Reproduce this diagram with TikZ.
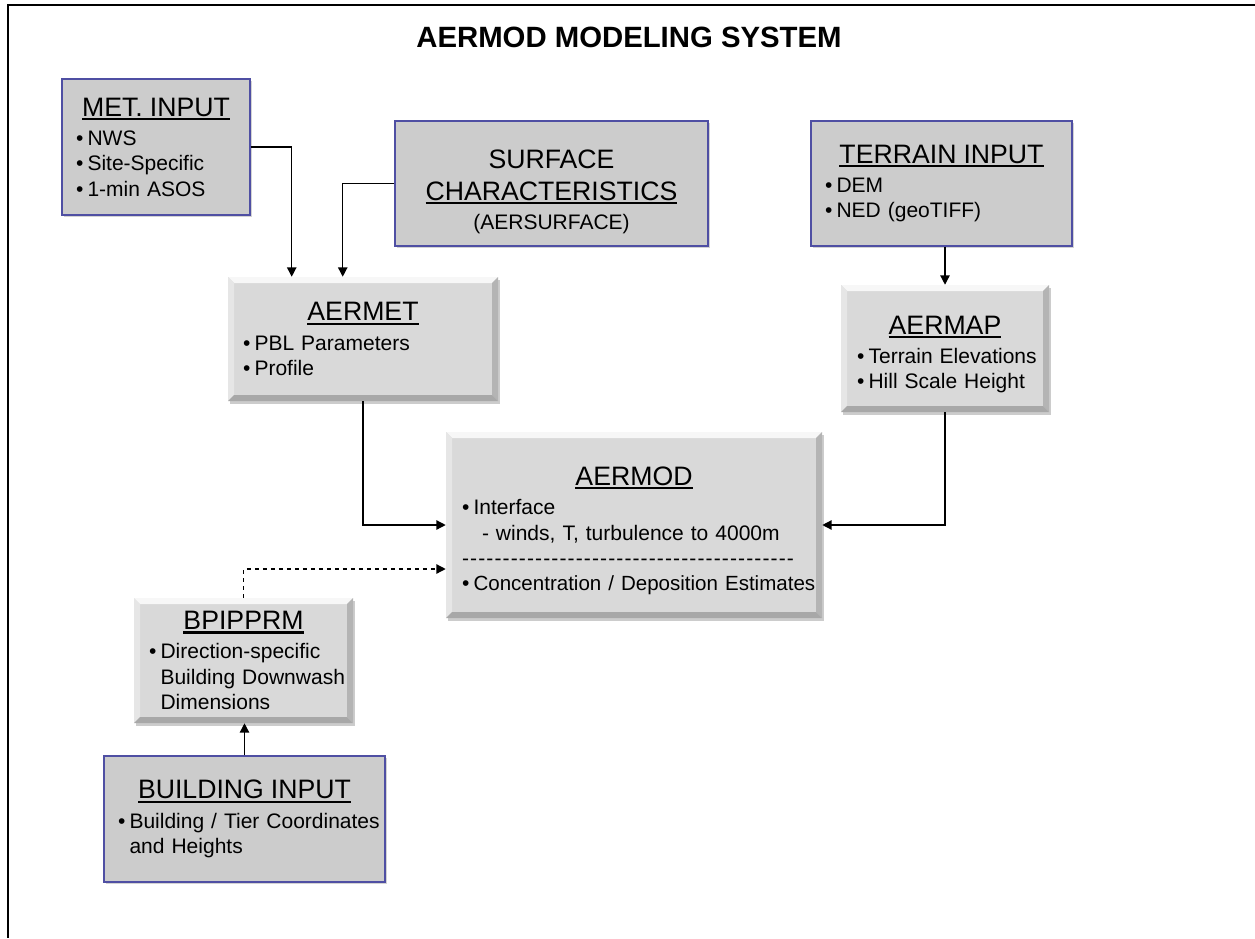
\documentclass[tikz,border=0pt]{standalone}
\usepackage{fontspec}
\setmainfont{Liberation Sans}
\usetikzlibrary{arrows.meta,shadows}

\newdimen\px \px=0.75pt
\definecolor{boxfill}{HTML}{CCCCCC}
\definecolor{boxline}{HTML}{4F4FA3}
\definecolor{bevfill}{HTML}{D9D9D9}
\definecolor{bevtop}{HTML}{F7F7F7}
\definecolor{bevleft}{HTML}{E6E6E6}
\definecolor{bevright}{HTML}{B4B4B4}
\definecolor{bevbot}{HTML}{A8A8A8}

% underlined box headings, bullets and follow-on lines
\newcommand{\uln}[1]{\leavevmode\setbox0\hbox{#1}\rlap{\rule[-4\px]{\wd0}{2.2\px}}\box0}
\newcommand{\hd}[1]{\centerline{\fontsize{20}{24}\selectfont\uln{#1}}\vskip 4\px}
\newcommand{\itm}[1]{\par\noindent\makebox[0.55em][l]{\textbullet}\mbox{#1}}
\newcommand{\cnt}[1]{\par\noindent\hspace*{0.55em}\mbox{#1}}

\begin{document}
\begin{tikzpicture}[
    % GLOBAL CFG
    x=0.75pt, y=-0.75pt,
    font=\fontsize{15.75}{19}\selectfont,
    >={Triangle[length=7pt,width=7pt]},
    % Styles
    inbox/.style={% For the input boxes
        rectangle,
        draw=boxline,
        line width=1.2\px,
        fill=boxfill,
        drop shadow={shadow xshift=1.5\px, shadow yshift=-2\px, opacity=0.35},
        align=left,
        },
    modbox/.style={% For the bevelled program boxes
        rectangle,
        fill=bevfill,
        drop shadow={shadow xshift=2\px, shadow yshift=-2.5\px, opacity=0.4},
        align=left,
        path picture={
            \fill[bevtop] (path picture bounding box.north west) -- (path picture bounding box.north east)
                -- ([xshift=-6\px,yshift=-6\px]path picture bounding box.north east)
                -- ([xshift=6\px,yshift=-6\px]path picture bounding box.north west) -- cycle;
            \fill[bevleft] (path picture bounding box.north west) -- (path picture bounding box.south west)
                -- ([xshift=6\px,yshift=6\px]path picture bounding box.south west)
                -- ([xshift=6\px,yshift=-6\px]path picture bounding box.north west) -- cycle;
            \fill[bevright] (path picture bounding box.north east) -- (path picture bounding box.south east)
                -- ([xshift=-6\px,yshift=6\px]path picture bounding box.south east)
                -- ([xshift=-6\px,yshift=-6\px]path picture bounding box.north east) -- cycle;
            \fill[bevbot] (path picture bounding box.south west) -- (path picture bounding box.south east)
                -- ([xshift=-6\px,yshift=6\px]path picture bounding box.south east)
                -- ([xshift=6\px,yshift=6\px]path picture bounding box.south west) -- cycle;
            },
        },
    conn/.style={% Connectors between boxes
        line width=1.3\px,
        },
    ]

\useasboundingbox (0,0) rectangle (1255,938);

% frame and title
\draw[line width=2.5\px] (1255,5) -| (8,938);
\node[font=\fontsize{22}{26}\selectfont\bfseries] (title) at (629,37) {AERMOD MODELING SYSTEM};

% Input boxes
\node[inbox, minimum width=188\px, minimum height=136\px, text width=160\px] (met) at (156,147)
    {\hd{MET. INPUT}\itm{NWS}\itm{Site-Specific}\itm{1-min ASOS}};
\node[inbox, minimum width=313\px, minimum height=125\px, text width=290\px, align=center] (surf) at (551.5,183.5)
    {\vskip 3\px\fontsize{20}{24}\selectfont SURFACE\\ \uln{CHARACTERISTICS}\\[3pt]
     {\fontsize{15.75}{19}\selectfont (AERSURFACE)\par}};
\node[inbox, minimum width=261\px, minimum height=125\px, text width=233\px] (terr) at (941.5,183.5)
    {\hd{TERRAIN INPUT}\itm{DEM}\itm{NED (geoTIFF)}};
\node[inbox, minimum width=281\px, minimum height=126\px, text width=253\px] (bldg) at (244.5,819)
    {\hd{BUILDING INPUT}\itm{Building / Tier Coordinates}\cnt{and Heights}};

% Program boxes
\node[modbox, minimum width=270\px, minimum height=124\px, text width=240\px] (aermet) at (363,339)
    {\hd{AERMET}\itm{PBL Parameters}\itm{Profile}};
\node[modbox, minimum width=208\px, minimum height=127\px, text width=176\px] (aermap) at (945,348.5)
    {\vskip 5\px\hd{AERMAP}\itm{Terrain Elevations}\itm{Hill Scale Height}};
\node[modbox, minimum width=376\px, minimum height=186\px, text width=344\px] (aermod) at (634,525)
    {\vskip 5\px\hd{AERMOD}\itm{Interface}
     \par\noindent\hspace*{20\px}\mbox{- winds, T, turbulence to 4000m}
     \par\noindent\hbox to 333\px{\xleaders\hbox{-\kern1\px}\hfill}
     \itm{\fontsize{15.4}{19}\selectfont Concentration / Deposition Estimates}};
\node[modbox, minimum width=219\px, minimum height=125\px, text width=189\px] (bpip) at (243.5,660.5)
    {\hd{BPIPPRM}\itm{Direction-specific}\cnt{Building Downwash}\cnt{Dimensions}};

% Connectors
\draw[conn, ->] (met.east) -| ([xshift=64\px]aermet.north west);
\draw[conn, ->] (surf.west) -| ([xshift=115\px]aermet.north west);
\draw[conn, ->] (terr.south -| aermap.north) -- (aermap.north);
\draw[conn, ->] (aermet.south) |- (aermod.west);
\draw[conn, ->] (aermap.south) |- (aermod.east);
\draw[conn, ->, dashed] (bpip.north) |- ([yshift=-44\px]aermod.west);
\draw[conn, ->] (bldg.north) -- (bldg.north |- bpip.south);

\end{tikzpicture}
\end{document}
